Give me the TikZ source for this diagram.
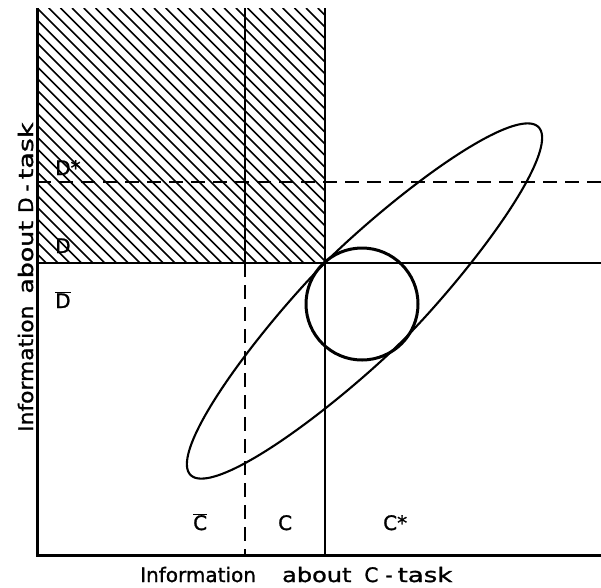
\documentclass[tikz,border=0pt]{standalone}
\usepackage{fontspec}
\usepackage{graphicx}
\setmainfont{DejaVu Sans}[FakeBold=1.2]
\begin{document}
\begin{tikzpicture}[x=1pt,y=-1pt,
  axisline/.style={line width=3pt},
  solidline/.style={line width=2.6pt},
  dashline/.style={line width=2.6pt, dash pattern=on 14pt off 8pt},
  hatchline/.style={line width=1.6pt},
  curveline/.style={line width=2.1pt, line join=round},
  circline/.style={line width=3pt},
  lab/.style={font=\fontsize{20}{20}\selectfont, inner sep=0pt, anchor=base west},
  axlab/.style={font=\fontsize{20}{20}\selectfont, inner sep=0pt, anchor=base west}]
\useasboundingbox (0,0) rectangle (601,587);
% key points
\coordinate (TL) at (37,8);
\coordinate (BL) at (37,555);
\coordinate (BR) at (601,555);
\coordinate (VsT) at (325,8);
\coordinate (VsB) at (325,555);
\coordinate (HsL) at (37,263);
\coordinate (HsR) at (601,263);
\coordinate (VdT) at (245,8);
\coordinate (VdM) at (245,263);
\coordinate (VdB) at (245,555);
\coordinate (HdL) at (37,182);
\coordinate (HdR) at (601,182);
\coordinate (EC) at (364.5,301);
\coordinate (CC) at (362,304);
% hatching
\begin{scope}
  \clip (TL) rectangle (325,263);
  \foreach \k in {-23,...,26} \draw[hatchline] ({37+11.7*\k},8) -- ++(300,300);
\end{scope}
% lines
\draw[solidline] (VdT) -- (VdM);
\draw[dashline] (VdM) -- (VdB);
\draw[dashline] (HdL) -- (HdR);
\draw[solidline] (HsL) -- (HsR);
\draw[solidline] (VsT) -- (VsB);
\draw[axisline, line join=miter] (TL) -- (BL) -- (BR);
% elongated oval and circle
\begin{scope}[shift={(EC)}, rotate=45]
  \draw[curveline] plot[domain=1:361, samples=181]
    ({246*sign(cos(\x))*abs(cos(\x))^(1.18)}, {55*sin(\x)}) -- cycle;
\end{scope}
\draw[circline] (CC) circle [radius=56pt];
% labels
\node[lab] (dstar) at (55,175) {D*};
\node[lab] (dlab) at (55,253) {D};
\node[lab] (dbar) at (55,308) {\ensuremath{\overline{\mbox{D}}}};
\node[lab] (cbar) at (193,530) {\ensuremath{\overline{\mbox{C}}}};
\node[lab] (clab) at (278,530) {C};
\node[lab] (cstar) at (383,530) {C*};
\node[axlab] (xlab) at (140,582) {\makebox[118pt][l]{Information}\hspace{24pt}\scalebox{1.2}[1]{about}\hspace{13pt}C\hspace{7pt}-\hspace{5pt}\scalebox{1.3}[1]{task}};
\node[axlab, rotate=90] (ylab) at (33,432) {\scalebox{1.09}[1]{Information}\hspace{12pt}\scalebox{1.26}[1]{about}\hspace{8pt}D\hspace{6pt}-\hspace{5pt}\scalebox{1.35}[1]{task}};
\end{tikzpicture}
\end{document}
